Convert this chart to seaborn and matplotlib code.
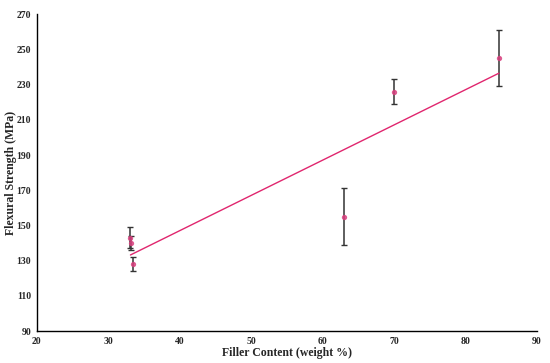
import matplotlib
matplotlib.use("Agg")
import matplotlib.pyplot as plt
import numpy as np
import pandas as pd
import seaborn as sns

# Data
filler = [33.1, 33.2, 33.4, 63.0, 70.0, 84.7]
strength = [143, 140, 128, 155, 226, 245]
err = [6, 4, 4, 16, 7, 16]

df = pd.DataFrame({"filler": filler, "strength": strength, "err": err})

sns.set_style("white")
plt.rcParams["font.family"] = ["Liberation Serif", "DejaVu Serif"]
plt.rcParams["font.weight"] = "bold"

fig = plt.figure(figsize=(5.5, 3.63), dpi=100)
ax = fig.add_axes([0.067, 0.088, 0.909, 0.873])

pink = "#e0266e"

# Error bars
ax.errorbar(df["filler"], df["strength"], yerr=df["err"], fmt="none",
            ecolor="#333333", elinewidth=1.1, capsize=2.2, capthick=1.0, zorder=2)

# Linear trendline + markers
sns.regplot(data=df, x="filler", y="strength", ci=None, ax=ax,
            scatter_kws={"s": 8, "color": "#d8407e", "marker": "o", "zorder": 3},
            line_kws={"color": pink, "linewidth": 1.0, "zorder": 2})

ax.set_xlim(20, 90)
ax.set_ylim(90, 270)
ax.set_xticks(range(20, 91, 10))
ax.set_yticks(range(90, 271, 20))
ax.tick_params(axis="both", length=0, labelsize=7, pad=4)
for lbl in ax.get_xticklabels() + ax.get_yticklabels():
    lbl.set_fontweight("bold")

ax.set_xlabel("Filler Content (weight %)", fontsize=8.5, fontweight="bold", labelpad=1)
ax.set_ylabel("Flexural Strength (MPa)", fontsize=8.5, fontweight="bold", labelpad=1)
ax.yaxis.set_label_coords(-0.04, 0.5)

for side in ["top", "right"]:
    ax.spines[side].set_visible(False)
for side in ["left", "bottom"]:
    ax.spines[side].set_color("black")
    ax.spines[side].set_linewidth(1.0)

fig.savefig("out.png", dpi=100)
